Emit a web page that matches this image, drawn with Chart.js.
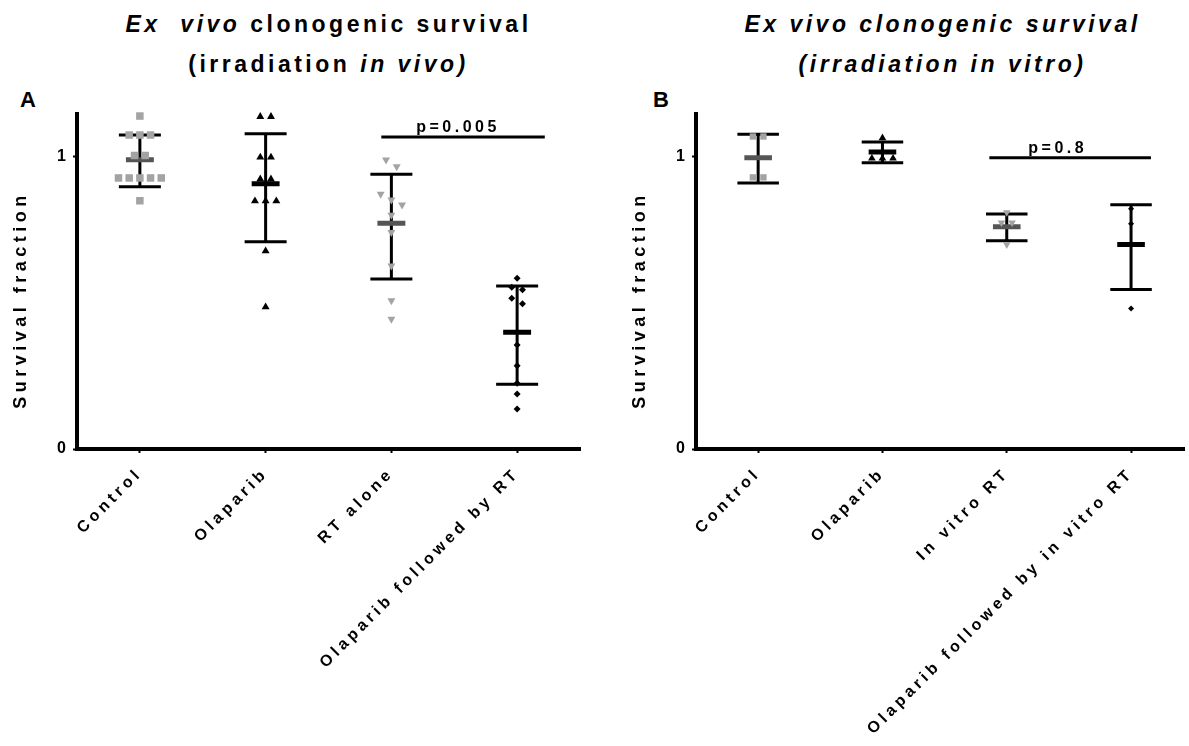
<!DOCTYPE html>
<html>
<head>
<meta charset="utf-8">
<script src="https://cdn.jsdelivr.net/npm/chart.js@4.4.1/dist/chart.umd.min.js"></script>
<style>
  html, body { margin: 0; padding: 0; background: #fff; }
  body { width: 1189px; height: 746px; position: relative; overflow: hidden; font-family: "Liberation Sans", Arial, sans-serif; color: #000; }
  .title { position: absolute; top: 4px; font-weight: bold; font-size: 23px; letter-spacing: 3.5px; line-height: 40px; text-align: center; white-space: pre; }
  .panel { position: absolute; font-weight: bold; font-size: 22px; line-height: 22px; }
  .box { position: absolute; top: 0; height: 746px; }
</style>
</head>
<body>
<div class="title" style="left:77px; width:503px;"><i>Ex  vivo</i> clonogenic survival<br>(irradiation <i>in vivo)</i></div>
<div class="title" style="left:696px; width:493px;"><i>Ex vivo clonogenic survival<br>(irradiation in vitro)</i></div>
<div class="panel" style="left:20px; top:89px;">A</div>
<div class="panel" style="left:653px; top:89px;">B</div>
<div class="box" style="left:0; width:590px;"><canvas id="chartA"></canvas></div>
<div class="box" style="left:619px; width:570px;"><canvas id="chartB"></canvas></div>

<script>
// categories
const labelsA = ['Control', 'Olaparib', 'RT alone', 'Olaparib followed by RT'];
const labelsB = ['Control', 'Olaparib', 'In vitro RT', 'Olaparib followed by in vitro RT'];
const yTicks = [0, 1];

// panel A: individual survival fractions (irradiation in vivo)
const controlA = [1.14, 1.075, 1.075, 1.075, 1.005, 1.005, 0.928, 0.928, 0.928, 0.928, 0.928, 0.85];
const olaparibA = [1.138, 1.138, 0.999, 0.999, 0.924, 0.924, 0.849, 0.849, 0.849, 0.678, 0.486];
const rtAloneA = [0.99, 0.967, 0.873, 0.853, 0.836, 0.801, 0.742, 0.627, 0.508, 0.445];
const olapRtA = [0.585, 0.554, 0.545, 0.516, 0.497, 0.356, 0.285, 0.225, 0.188, 0.137];
// mean and error bar ends
const meanA = [0.99, 0.908, 0.773, 0.40];
const lowA = [0.898, 0.71, 0.582, 0.222];
const highA = [1.075, 1.079, 0.941, 0.558];

// panel B: individual survival fractions (irradiation in vitro)
const controlB = [1.07, 1.07, 0.93, 0.93];
const olaparibB = [1.065, 0.995, 0.995, 0.995];
const inVitroB = [0.81, 0.775, 0.775, 0.70];
const olapInVitroB = [0.823, 0.771, 0.70, 0.481];
const meanB = [0.997, 1.017, 0.761, 0.70];
const lowB = [0.911, 0.98, 0.713, 0.546];
const highB = [1.078, 1.051, 0.805, 0.836];

// significance bars
const pSpanA = [1.92, 3.22];
const pLevelA = 1.068;
const pTextA = 'p=0.005';
const pTextXA = 2.53;
const pSpanB = [1.86, 3.16];
const pLevelB = 0.997;
const pTextB = 'p=0.8';
const pTextXB = 2.41;

Chart.defaults.font.family = '"Liberation Sans", Arial, sans-serif';
Chart.defaults.color = '#000';

const GRAY = '#a3a3a3';
const DARK = '#555555';
const BLACK = '#000000';
const CAP = 0.167;       // half width of error caps (category units)
const MEAN_HALF = 0.111; // half width of mean bar
const SPREAD = 0.085;    // horizontal step between tied points
const ROW_GAP = 0.026;   // values closer than this sit on one row

// spread points that (nearly) overlap into a row, like a scatter dot plot
function swarm(vals, idx) {
  const sorted = vals.slice().sort((a, b) => b - a);
  const rows = [];
  sorted.forEach(v => {
    const row = rows[rows.length - 1];
    if (row && row[row.length - 1] - v < ROW_GAP) row.push(v);
    else rows.push([v]);
  });
  const pts = [];
  rows.forEach(row => {
    row.forEach((v, j) => pts.push({ x: idx + (j - (row.length - 1) / 2) * SPREAD, y: v }));
  });
  return pts;
}

function errorData(low, high) {
  const pts = [];
  low.forEach((lo, i) => {
    const hi = high[i];
    pts.push({ x: i, y: lo }, { x: i, y: hi }, { x: i, y: null });
    pts.push({ x: i - CAP, y: hi }, { x: i + CAP, y: hi }, { x: i, y: null });
    pts.push({ x: i - CAP, y: lo }, { x: i + CAP, y: lo }, { x: i, y: null });
  });
  return pts;
}

function meanData(mean, which) {
  const pts = [];
  which.forEach(i => {
    pts.push({ x: i - MEAN_HALF, y: mean[i] }, { x: i + MEAN_HALF, y: mean[i] }, { x: i, y: null });
  });
  return pts;
}

function lineSet(data, color, width, order) {
  return {
    data: data, showLine: true, spanGaps: false, borderColor: color, borderWidth: width,
    borderCapStyle: 'butt', pointRadius: 0, clip: false, order: order
  };
}

function pointSet(vals, idx, style, color, radius, rotation) {
  return {
    data: swarm(vals, idx), showLine: false, pointStyle: style, pointRotation: rotation || 0,
    pointRadius: radius, pointBackgroundColor: color, pointBorderColor: color,
    pointBorderWidth: 0, clip: false, order: 1
  };
}

const panelText = {
  id: 'panelText',
  beforeDraw(chart) {
    chart.ctx.letterSpacing = '4px';
  },
  afterDraw(chart, args, opts) {
    const { ctx, chartArea, scales } = chart;
    ctx.save();
    ctx.fillStyle = '#000';
    ctx.font = 'bold 16px "Liberation Sans"';
    ctx.letterSpacing = '3.5px';
    ctx.textAlign = 'center';
    ctx.textBaseline = 'alphabetic';
    ctx.fillText(opts.text, scales.x.getPixelForValue(opts.textX), scales.y.getPixelForValue(opts.level) - 5);
    // y axis title
    ctx.font = 'bold 18px "Liberation Sans"';
    ctx.letterSpacing = '4.5px';
    ctx.translate(chartArea.left - 56, chartArea.bottom - 149);
    ctx.rotate(-Math.PI / 2);
    ctx.textBaseline = 'middle';
    ctx.fillText('Survival fraction', 0, 0);
    ctx.restore();
  }
};

function makeChart(id, labels, points, mean, low, high, pSpan, pLevel, pText, pTextX, xMax, padRight) {
  const datasets = points.concat([
    lineSet(errorData(low, high), BLACK, 3, 3),
    lineSet(meanData(mean, [0, 2]), DARK, 5, 2),
    lineSet(meanData(mean, [1, 3]), BLACK, 5, 2),
    lineSet([{ x: pSpan[0], y: pLevel }, { x: pSpan[1], y: pLevel }], BLACK, 3, 3)
  ]);
  return new Chart(document.getElementById(id), {
    type: 'scatter',
    data: { datasets: datasets },
    options: {
      responsive: true,
      maintainAspectRatio: false,
      animation: false,
      layout: { padding: { top: 114, right: padRight, left: 0, bottom: 0 } },
      plugins: {
        legend: { display: false },
        tooltip: { enabled: false },
        panelText: { text: pText, textX: pTextX, level: pLevel }
      },
      scales: {
        x: {
          type: 'linear', min: -0.5, max: xMax,
          afterFit: s => { s.height = 297; },
          afterBuildTicks: s => { s.ticks = labels.map((l, i) => ({ value: i })); },
          ticks: {
            autoSkip: false, minRotation: 45, maxRotation: 45, padding: 11,
            color: '#000', font: { size: 16, weight: 'bold' },
            callback: v => labels[v]
          },
          grid: { drawOnChartArea: false, tickLength: 4, tickWidth: 2, tickColor: '#000' },
          border: { color: '#000', width: 4 }
        },
        y: {
          min: 0, max: 1.147,
          afterFit: s => { s.width = 77; },
          afterBuildTicks: s => { s.ticks = yTicks.map(v => ({ value: v })); },
          ticks: {
            padding: 3, color: '#000', font: { size: 16, weight: 'bold' },
            callback: v => String(v)
          },
          grid: { drawOnChartArea: false, tickLength: 4, tickWidth: 2, tickColor: '#000' },
          border: { color: '#000', width: 4 }
        }
      }
    },
    plugins: [panelText]
  });
}

makeChart('chartA', labelsA, [
  pointSet(controlA, 0, 'rect', GRAY, 5.3),
  pointSet(olaparibA, 1, 'triangle', BLACK, 4.6),
  pointSet(rtAloneA, 2, 'triangle', GRAY, 4.6, 180),
  pointSet(olapRtA, 3, 'rectRot', BLACK, 3.5)
], meanA, lowA, highA, pSpanA, pLevelA, pTextA, pTextXA, 3.5, 10);

makeChart('chartB', labelsB, [
  pointSet(controlB, 0, 'rect', GRAY, 4.5),
  pointSet(olaparibB, 1, 'triangle', BLACK, 4.4),
  pointSet(inVitroB, 2, 'triangle', GRAY, 4.4, 180),
  pointSet(olapInVitroB, 3, 'rectRot', BLACK, 3)
], meanB, lowB, highB, pSpanB, pLevelB, pTextB, pTextXB, 3.43, 0);
</script>
</body>
</html>
